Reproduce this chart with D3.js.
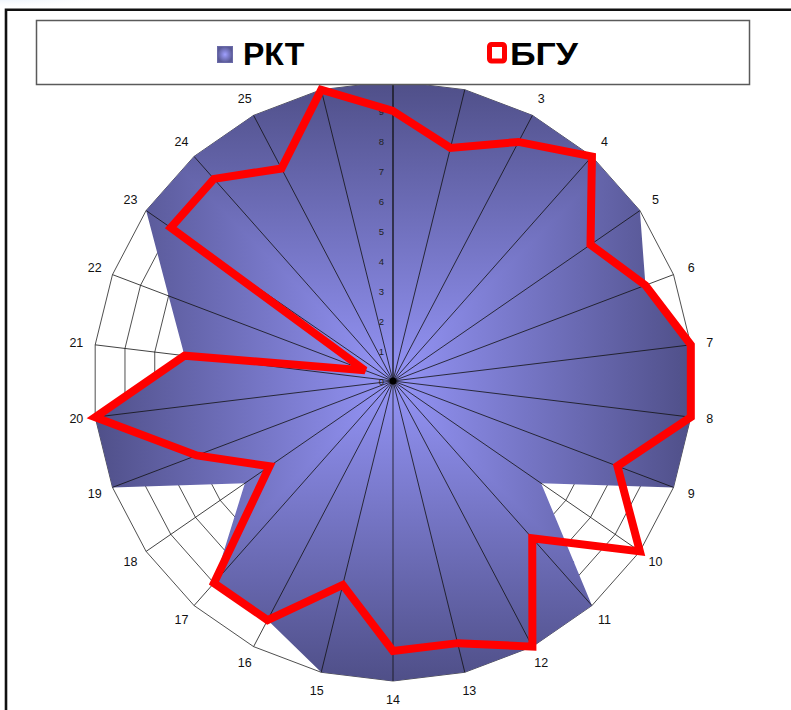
<!DOCTYPE html>
<html>
<head>
<meta charset="utf-8">
<script src="https://cdn.jsdelivr.net/npm/d3@7"></script>
<style>
  html, body { margin: 0; padding: 0; background: #ffffff; }
  svg { display: block; }
  text { font-family: "Liberation Sans", Arial, sans-serif; }
</style>
</head>
<body>
<svg id="chart" width="791" height="710"></svg>
<script>
// ---- data ----
const categories = ["1","2","3","4","5","6","7","8","9","10","11","12","13","14","15","16","17","18","19","20","21","22","23","24","25","26"];
const rktValues = [10,10,10,10,10,9,10,10,10,6,10,10,10,10,10,9,9,6,10,10,7,8,10,10,10,10];
const bguValues = [9,8,9,10,8,9,10,10,8,10,7,10,9,9,7,9,9,5,7,10,7,1,9,9,8,10];
const tickValues = [0,1,2,3,4,5,6,7,8,9,10];
const seriesNames = ["РКТ", "БГУ"];

// ---- layout ----
const W = 791, H = 710;
const cx = 393, cy = 381, R = 300;
const svg = d3.select("#chart");
const defs = svg.append("defs");

const r = d3.scaleLinear().domain([0, 10]).range([0, R]);
const ang = d3.scaleLinear().domain([0, categories.length]).range([0, 2 * Math.PI]);

// light decorative swoosh top-left
const sw = defs.append("radialGradient").attr("id", "swoosh").attr("cx", "0.3").attr("cy", "0.2").attr("r", "0.7");
sw.append("stop").attr("offset", 0).attr("stop-color", "#cfe0f4");
sw.append("stop").attr("offset", 1).attr("stop-color", "#ffffff").attr("stop-opacity", 0);
svg.append("ellipse").attr("cx", 40).attr("cy", 0).attr("rx", 90).attr("ry", 12).attr("fill", "url(#swoosh)");

// rectangular "from centre" gradient: four linear gradients
const light = "#9494f6", dark = "#4f4f88";
const dirs = [
  {id: "gT", x1: 0, y1: 0, x2: 0, y2: -R, pts: [[0,0],[-R,-R],[R,-R]]},
  {id: "gR", x1: 0, y1: 0, x2: R, y2: 0, pts: [[0,0],[R,-R],[R,R]]},
  {id: "gB", x1: 0, y1: 0, x2: 0, y2: R, pts: [[0,0],[R,R],[-R,R]]},
  {id: "gL", x1: 0, y1: 0, x2: -R, y2: 0, pts: [[0,0],[-R,R],[-R,-R]]}
];
dirs.forEach(d => {
  const g = defs.append("linearGradient").attr("id", d.id)
    .attr("gradientUnits", "userSpaceOnUse")
    .attr("x1", d.x1).attr("y1", d.y1).attr("x2", d.x2).attr("y2", d.y2);
  g.append("stop").attr("offset", 0).attr("stop-color", light);
  g.append("stop").attr("offset", 1).attr("stop-color", dark);
});

// legend marker gradient
const lg = defs.append("radialGradient").attr("id", "legGrad");
lg.append("stop").attr("offset", 0).attr("stop-color", "#a0a0ff");
lg.append("stop").attr("offset", 1).attr("stop-color", "#5a5a96");

const plot = svg.append("g").attr("transform", `translate(${cx},${cy})`);

const radial = d3.lineRadial()
  .angle((d, i) => ang(i))
  .radius(d => r(d))
  .curve(d3.curveLinearClosed);

// grid rings
plot.append("g").selectAll("path").data(tickValues.filter(v => v > 0)).join("path")
  .attr("d", v => radial(categories.map(() => v)))
  .attr("fill", "none")
  .attr("stroke", "#222")
  .attr("stroke-width", 0.8);

// RKT area (clip + gradient quadrants)
defs.append("clipPath").attr("id", "rktClip")
  .append("path")
  .attr("transform", `translate(${cx},${cy})`)
  .attr("d", radial(rktValues));

const areaG = svg.append("g").attr("clip-path", "url(#rktClip)")
  .append("g").attr("transform", `translate(${cx},${cy})`);
dirs.forEach(d => {
  areaG.append("polygon")
    .attr("points", d.pts.map(p => p.join(",")).join(" "))
    .attr("fill", `url(#${d.id})`)
    .attr("stroke", `url(#${d.id})`)
    .attr("stroke-width", 1);
});

const plot2 = svg.append("g").attr("transform", `translate(${cx},${cy})`);

// spokes
plot2.append("g").selectAll("line").data(categories).join("line")
  .attr("x1", 0).attr("y1", 0)
  .attr("x2", (d, i) => r(10) * Math.sin(ang(i)))
  .attr("y2", (d, i) => -r(10) * Math.cos(ang(i)))
  .attr("stroke", "#111")
  .attr("stroke-width", (d, i) => i === 0 ? 1.3 : 0.8);

plot2.append("circle").attr("r", 3.5).attr("fill", "#000");

// value axis tick labels
plot2.append("g").selectAll("text").data(tickValues).join("text")
  .attr("x", -9)
  .attr("y", v => -r(v))
  .attr("text-anchor", "end")
  .attr("dominant-baseline", "central")
  .attr("font-size", 9.5)
  .attr("fill", "#222")
  .text(v => v);

// BGU line
plot2.append("path")
  .attr("d", radial(bguValues))
  .attr("fill", "none")
  .attr("stroke", "#ff0000")
  .attr("stroke-width", 8)
  .attr("stroke-linejoin", "miter")
  .attr("stroke-miterlimit", 3);

// category labels
plot2.append("g").selectAll("text").data(categories).join("text")
  .attr("x", (d, i) => 319 * Math.sin(ang(i)))
  .attr("y", (d, i) => -319 * Math.cos(ang(i)))
  .attr("text-anchor", "middle")
  .attr("dominant-baseline", "central")
  .attr("font-size", 12.5)
  .attr("fill", "#111")
  .text(d => d);

// legend box
svg.append("rect")
  .attr("x", 36.5).attr("y", 20.5).attr("width", 713).attr("height", 64)
  .attr("fill", "#ffffff").attr("stroke", "#5a5a5a").attr("stroke-width", 1.5);

const leg = svg.append("g");
leg.append("rect").attr("x", 217.5).attr("y", 46.5).attr("width", 15).attr("height", 16)
  .attr("fill", "url(#legGrad)").attr("stroke", "#6a6aa8").attr("stroke-width", 1);
leg.append("text").attr("x", 243).attr("y", 65)
  .attr("font-size", 32).attr("font-weight", "bold").attr("fill", "#000")
  .text(seriesNames[0]);
leg.append("rect").attr("x", 489.5).attr("y", 44.5).attr("width", 15).attr("height", 16.5).attr("rx", 2)
  .attr("fill", "#fff").attr("stroke", "#ff0000").attr("stroke-width", 5);
leg.append("text").attr("x", 510).attr("y", 65)
  .attr("font-size", 32).attr("font-weight", "bold").attr("fill", "#000")
  .attr("textLength", 68).attr("lengthAdjust", "spacingAndGlyphs")
  .text(seriesNames[1]);

// outer frame
svg.append("path")
  .attr("d", `M6,${H + 5} L6,9.8 L${W + 5},9.8`)
  .attr("fill", "none").attr("stroke", "#111").attr("stroke-width", 2.6);
</script>
</body>
</html>
